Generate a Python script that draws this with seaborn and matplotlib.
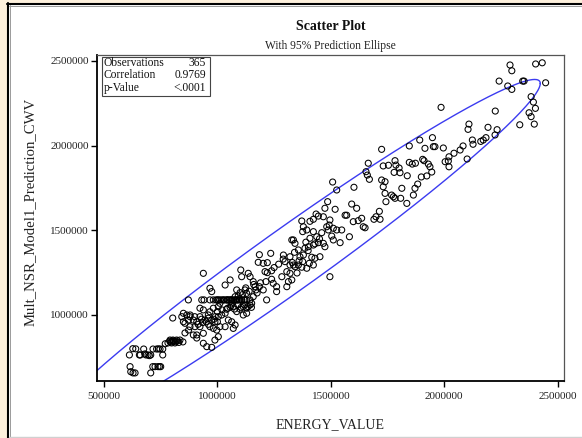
import numpy as np
import pandas as pd
import matplotlib
matplotlib.use("Agg")
import matplotlib.pyplot as plt
from matplotlib.patches import Rectangle
from matplotlib.lines import Line2D
from matplotlib.ticker import FuncFormatter
import seaborn as sns

# ENERGY_VALUE vs model prediction (one pair per day)
energy_value = [
    2290000, 2298000, 2403000, 2432000, 2242000, 2280000, 2298000, 2346000, 2352000, 2447000,
    2383000, 2393000, 2402000, 1986000, 2225000, 2374000, 2383000, 2397000, 2333000, 2109000,
    2105000, 2193000, 2233000, 2224000, 2124000, 2127000, 2161000, 2172000, 2184000, 1892000,
    1948000, 1846000, 1915000, 1952000, 1959000, 1996000, 1724000, 2043000, 2021000, 2018000,
    2004000, 2021000, 2101000, 1783000, 1787000, 1754000, 1731000, 1846000, 1859000, 1873000,
    1905000, 1911000, 1930000, 1937000, 1801000, 1779000, 1805000, 1945000, 1923000, 1899000,
    1883000, 1837000, 1724000, 1739000, 1731000, 1813000, 1871000, 1739000, 1768000, 1776000,
    1783000, 1808000, 1835000, 1743000, 1864000, 2070000, 2083000,
    1665000, 1655000, 1661000, 1670000, 1508000, 1526000, 1602000, 1486000, 1592000, 1614000,
    1474000, 1519000, 1435000, 1445000, 1467000, 1563000, 1570000, 1714000, 1699000, 1690000,
    1717000, 1372000, 1379000, 1376000, 1408000, 1423000, 1496000, 1493000, 1599000, 1621000,
    1636000, 1643000, 1651000, 1482000, 1489000, 1511000, 1526000, 1548000, 1582000, 1394000,
    1423000, 1438000, 1408000, 1460000, 1504000, 1511000, 1541000, 1328000, 1342000, 1335000,
    1467000, 1474000, 1386000, 1401000, 1423000, 1445000, 1291000, 1357000, 1364000, 1379000,
    1376000, 1430000, 1452000, 1416000, 1298000, 1320000, 1335000, 1342000, 1357000, 1372000,
    1394000, 1405000, 1423000, 1306000, 1320000, 1284000, 1313000, 1306000, 1496000, 1320000,
    1351000, 1328000, 1261000,
    938000, 872000, 931000, 941000, 967000, 982000, 994000, 1004000, 1019000, 1030000,
    1041000, 1052000, 1063000, 1073000, 1085000, 1097000, 1107000, 1117000, 1129000, 1144000,
    1041000, 1063000, 1085000, 1107000,
    967000, 975000, 1034000, 1056000, 1103000, 1107000, 1136000, 1144000, 1185000, 1235000,
    1180000, 1202000, 1220000, 1210000, 1220000, 1239000, 1158000, 1166000, 1170000, 1122000,
    1129000, 1085000, 1100000, 1078000, 1092000, 1214000, 1239000, 1246000, 1261000, 1185000,
    1202000, 1158000, 1151000, 1217000,
    850000, 843000, 865000, 879000, 894000, 909000, 923000, 938000, 923000, 945000,
    960000, 975000, 989000, 1004000, 1019000, 1034000, 1041000, 1056000, 1070000, 1100000,
    1114000, 1129000, 1144000, 1011000, 1004000, 982000, 967000, 1048000, 1063000, 1070000,
    1078000, 1114000, 1129000, 1034000, 1011000, 997000, 879000, 901000, 923000, 938000,
    909000, 894000, 857000, 872000, 967000, 982000,
    627000, 612000, 656000, 685000, 694000, 706000, 716000, 732000, 747000, 759000,
    759000, 782000, 791000, 798000, 804000, 813000, 820000, 835000, 848000, 615000,
    618000, 628000, 637000, 706000, 715000, 725000, 738000, 750000, 803000, 873000,
    909000, 857000, 800000, 809000, 938000, 953000, 975000, 989000, 1004000,
    1000000, 1011000, 1026000, 1047000, 1058000, 1078000, 1092000, 1122000,
    1045000, 1060000, 1075000, 1090000, 1105000, 1120000, 1135000, 1150000, 1085000, 1065000,
    795000, 806000, 816000, 825000, 790000, 830000,
    915000, 935000, 950000, 985000, 1000000, 930000, 960000, 990000,
    1110000, 1140000, 1160000, 1190000, 1125000, 1175000,
    1250000, 1270000, 1290000, 1340000, 1360000, 1400000, 1430000, 1450000, 1390000, 1330000,
    660000, 680000, 740000, 770000, 700000, 745000, 640000, 675000,
    880000, 900000, 850000, 1000000, 1020000, 960000,
]

prediction_cwv = [
    2476000, 2442000, 2482000, 2489000, 2381000, 2352000, 2332000, 2381000, 2381000, 2371000,
    2289000, 2257000, 2220000, 2226000, 2204000, 2194000, 2171000, 2127000, 2123000, 2127000,
    2096000, 2108000, 2094000, 2063000, 2033000, 2008000, 2025000, 2033000, 2047000, 2033000,
    2047000, 1998000, 1984000, 1994000, 1994000, 1986000, 1978000, 1955000, 1934000, 1909000,
    1905000, 1875000, 1921000, 1911000, 1885000, 1884000, 1880000, 1901000, 1891000, 1896000,
    1919000, 1911000, 1891000, 1875000, 1868000, 1842000, 1840000, 1844000, 1821000, 1815000,
    1773000, 1822000, 1797000, 1787000, 1757000, 1748000, 1748000, 1718000, 1708000, 1698000,
    1689000, 1689000, 1659000, 1669000, 1708000, 1974000, 1998000,
    1896000, 1846000, 1826000, 1801000, 1785000, 1738000, 1754000, 1669000, 1655000, 1630000,
    1630000, 1624000, 1596000, 1584000, 1580000, 1589000, 1589000, 1612000, 1580000, 1565000,
    1565000, 1555000, 1521000, 1492000, 1553000, 1565000, 1561000, 1531000, 1551000, 1557000,
    1571000, 1521000, 1515000, 1521000, 1502000, 1512000, 1502000, 1502000, 1462000, 1502000,
    1492000, 1462000, 1453000, 1486000, 1466000, 1443000, 1427000, 1443000, 1423000, 1443000,
    1423000, 1403000, 1394000, 1403000, 1413000, 1427000, 1354000, 1384000, 1344000, 1354000,
    1315000, 1335000, 1344000, 1341000, 1315000, 1295000, 1295000, 1285000, 1295000, 1282000,
    1276000, 1305000, 1295000, 1256000, 1246000, 1226000, 1197000, 1167000, 1226000, 1344000,
    1248000, 1207000, 1138000,
    1246000, 1089000, 1089000, 1089000, 1089000, 1089000, 1089000, 1089000, 1089000, 1089000,
    1089000, 1089000, 1089000, 1089000, 1089000, 1089000, 1089000, 1089000, 1089000, 1089000,
    1089000, 1089000, 1089000, 1089000,
    1158000, 1138000, 1177000, 1207000, 1266000, 1226000, 1246000, 1226000, 1356000, 1364000,
    1311000, 1305000, 1309000, 1256000, 1250000, 1261000, 1197000, 1167000, 1148000, 1148000,
    1128000, 1148000, 1132000, 1108000, 1112000, 1197000, 1211000, 1187000, 1167000, 1167000,
    1148000, 1108000, 1069000, 1089000,
    1010000, 990000, 1000000, 990000, 970000, 960000, 1040000, 1030000, 990000, 970000,
    981000, 970000, 960000, 990000, 1000000, 1010000, 1034000, 1045000, 1049000, 1034000,
    1049000, 1040000, 1059000, 1069000, 1049000, 1040000, 1019000, 970000, 960000, 921000,
    941000, 1000000, 1010000, 931000, 931000, 911000, 931000, 931000, 931000, 892000,
    882000, 882000, 951000, 970000, 931000, 921000,
    801000, 764000, 764000, 764000, 764000, 764000, 799000, 799000, 799000, 799000,
    764000, 835000, 852000, 835000, 852000, 835000, 852000, 852000, 841000, 695000,
    665000, 658000, 658000, 658000, 695000, 695000, 695000, 695000, 982000, 911000,
    864000, 894000, 846000, 846000, 833000, 813000, 809000, 852000, 872000,
    1089000, 1089000, 1089000, 1089000, 1089000, 1089000, 1089000, 1089000,
    1040000, 1055000, 1035000, 1060000, 1045000, 1060000, 1050000, 1045000, 1020000, 1070000,
    840000, 846000, 842000, 848000, 845000, 838000,
    945000, 955000, 960000, 975000, 960000, 975000, 945000, 990000,
    1120000, 1140000, 1180000, 1190000, 1160000, 1130000,
    1280000, 1300000, 1330000, 1370000, 1320000, 1380000, 1420000, 1450000, 1430000, 1310000,
    764000, 770000, 800000, 830000, 760000, 695000, 800000, 799000,
    1000000, 990000, 960000, 1020000, 1030000, 1000000,
]

x_ticks = [500000, 1000000, 1500000, 2000000, 2500000]
y_ticks = [1000000, 1500000, 2000000, 2500000]
stats_labels = ["Observations", "Correlation", "p-Value"]
stats_values = ["365", "0.9769", "<.0001"]

df = pd.DataFrame({"ENERGY_VALUE": energy_value,
                   "Mult_NSR_Model1_Prediction_CWV": prediction_cwv})

sns.set_style("white")
plt.rcParams["font.family"] = ["Liberation Serif", "DejaVu Serif"]

W, H = 582, 438
fig = plt.figure(figsize=(W / 100, H / 100), dpi=100, facecolor="#FDF0DC")


def fx(px):
    return px / W


def fy(py):
    return 1 - py / H


# page frame
fig.add_artist(Rectangle((fx(8), fy(437)), fx(582) - fx(8), fy(3) - fy(437),
                         transform=fig.transFigure, facecolor="white",
                         edgecolor="none", zorder=0))
fig.add_artist(Line2D([fx(7.5), fx(7.5)], [fy(3), fy(438)], transform=fig.transFigure,
                      color="black", lw=1.5))
fig.add_artist(Line2D([fx(7), fx(582)], [fy(3.5), fy(3.5)], transform=fig.transFigure,
                      color="black", lw=1.5))
fig.add_artist(Line2D([fx(9.5), fx(9.5)], [fy(5), fy(437)], transform=fig.transFigure,
                      color="#9a9a9a", lw=0.7))
fig.add_artist(Line2D([fx(9), fx(582)], [fy(5.5), fy(5.5)], transform=fig.transFigure,
                      color="#9a9a9a", lw=0.7))
fig.add_artist(Line2D([fx(9), fx(582)], [fy(437), fy(437)], transform=fig.transFigure,
                      color="#d0d0d0", lw=1.0))

ax = fig.add_axes([fx(97.3), fy(380.7), fx(564) - fx(97.3), fy(55) - fy(380.7)])
ax.set_facecolor("white")

sns.scatterplot(data=df, x="ENERGY_VALUE", y="Mult_NSR_Model1_Prediction_CWV", ax=ax,
                marker="o", s=19, facecolor="none", edgecolor="black", linewidth=0.75,
                zorder=3)

# 95% prediction ellipse from the sample mean and covariance
xy = np.column_stack([energy_value, prediction_cwv]).astype(float)
n = len(xy)
mu = xy.mean(axis=0)
S = np.cov(xy.T)
d2 = n - 2
f95 = d2 / 2 * (0.05 ** (-2 / d2) - 1)
c2 = 2 * (n - 1) * (n + 1) / (n * (n - 2)) * f95
L = np.linalg.cholesky(S)
t = np.linspace(0, 2 * np.pi, 500)
ell = mu[:, None] + np.sqrt(c2) * (L @ np.vstack([np.cos(t), np.sin(t)]))
ax.plot(ell[0], ell[1], color="#3b3bf0", lw=1.0, zorder=2)

ax.set_xlim(470500, 2528000)
ax.set_ylim(612000, 2535000)
ax.set_xticks(x_ticks)
ax.set_yticks(y_ticks)
fmt = FuncFormatter(lambda v, p: f"{int(round(v))}")
ax.xaxis.set_major_formatter(fmt)
ax.yaxis.set_major_formatter(fmt)
ax.tick_params(axis="both", direction="out", length=4, width=1.0, color="black",
               labelsize=8, labelcolor="#222222")
ax.tick_params(axis="x", pad=4)
ax.tick_params(axis="y", pad=2)
ax.xaxis.set_ticks_position("bottom")
ax.yaxis.set_ticks_position("left")
for side in ("left", "bottom"):
    ax.spines[side].set_color("black")
    ax.spines[side].set_linewidth(1.3)
for side in ("top", "right"):
    ax.spines[side].set_color("#555555")
    ax.spines[side].set_linewidth(0.9)
ax.set_xlabel("")
ax.set_ylabel("")

fig.text(fx(330.5), fy(425), "ENERGY_VALUE", ha="center", va="center",
         fontsize=10, color="#222222")
fig.text(fx(30), fy(212), "Mult_NSR_Model1_Prediction_CWV", ha="center",
         va="center", rotation=90, fontsize=10.6, color="#222222")
fig.text(fx(330.5), fy(27), "Scatter Plot", ha="center", va="center",
         fontsize=10, fontweight="bold", color="#111111")
fig.text(fx(330.5), fy(46), "With 95% Prediction Ellipse", ha="center", va="center",
         fontsize=8.3, color="#222222")

# statistics inset
fig.add_artist(Rectangle((fx(101.5), fy(96)), fx(210) - fx(101.5), fy(56.5) - fy(96),
                         transform=fig.transFigure, facecolor="white",
                         edgecolor="#444444", lw=0.8, zorder=5))
for i, (lab, val) in enumerate(zip(stats_labels, stats_values)):
    yy = fy(63 + 12.5 * i)
    fig.text(fx(104), yy, lab, ha="left", va="center", fontsize=8.3,
             color="#111111", zorder=6)
    fig.text(fx(206), yy, val, ha="right", va="center", fontsize=8.3,
             color="#111111", zorder=6)

fig.savefig("out.png", dpi=100, facecolor=fig.get_facecolor())
